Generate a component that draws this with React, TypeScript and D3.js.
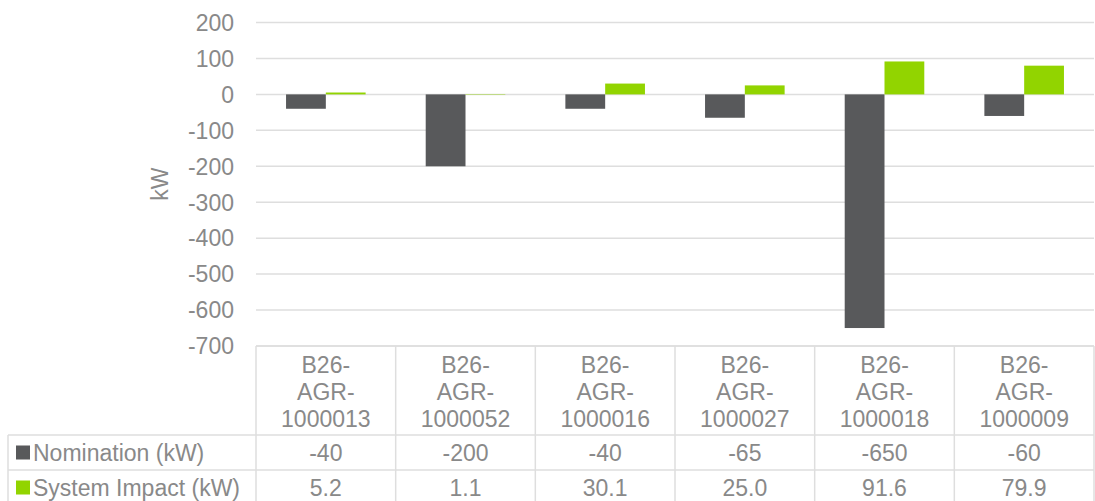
import React from "react";
import * as d3 from "d3";

const categories = [
  "B26-AGR-1000013",
  "B26-AGR-1000052",
  "B26-AGR-1000016",
  "B26-AGR-1000027",
  "B26-AGR-1000018",
  "B26-AGR-1000009",
];
const nomination = [-40, -200, -40, -65, -650, -60];
const systemImpact = [5.2, 1.1, 30.1, 25.0, 91.6, 79.9];
const nominationLabels = ["-40", "-200", "-40", "-65", "-650", "-60"];
const impactLabels = ["5.2", "1.1", "30.1", "25.0", "91.6", "79.9"];
const yTicks = [200, 100, 0, -100, -200, -300, -400, -500, -600, -700];
const seriesNames = ["Nomination (kW)", "System Impact (kW)"];
const seriesColors = ["#58595b", "#92d400"];

const W = 1095;
const H = 501;
const plotLeft = 256;
const plotRight = 1094;
const plotTop = 22.5;
const plotBottom = 346;
const tableLeft = 8;
const headerBottom = 435;
const row1Bottom = 470;
const row2Bottom = 505;
const textColor = "#898989";
const gridColor = "#dedede";
const font = "'Liberation Sans', Arial, sans-serif";
const fs = 23;

export default function App() {
  const y = d3.scaleLinear().domain([-700, 200]).range([plotBottom, plotTop]);
  const x = d3.scaleBand<string>().domain(categories).range([plotLeft, plotRight]).padding(0);
  const xs = d3
    .scaleBand<string>()
    .domain(seriesNames)
    .range([0, x.bandwidth()])
    .paddingInner(0)
    .paddingOuter(0.755);

  const series = [nomination, systemImpact];
  const rowLabels = [nominationLabels, impactLabels];

  const boundaries = categories.map((c) => x(c)!).concat([plotRight]);

  return (
    <svg
      width={W}
      height={H}
      style={{ position: "fixed", left: 0, top: 0, display: "block" }}
      fontFamily={font}
    >
      <rect width={W} height={H} fill="#fff" />
      {/* gridlines */}
      {yTicks.map((t) => (
        <line
          key={t}
          x1={plotLeft}
          x2={plotRight}
          y1={y(t)}
          y2={y(t)}
          stroke={gridColor}
          strokeWidth={1.5}
        />
      ))}
      {/* tick labels */}
      {yTicks.map((t) => (
        <text
          key={"l" + t}
          x={234}
          y={y(t)}
          dy="0.36em"
          textAnchor="end"
          fontSize={fs}
          fill={textColor}
        >
          {t}
        </text>
      ))}
      <text
        transform={`translate(168, ${y(-250)}) rotate(-90)`}
        textAnchor="middle"
        fontSize={fs}
        fill={textColor}
      >
        kW
      </text>
      {/* bars */}
      {series.map((vals, si) =>
        vals.map((v, i) => (
          <rect
            key={`b${si}-${i}`}
            x={x(categories[i])! + xs(seriesNames[si])!}
            width={xs.bandwidth()}
            y={Math.min(y(v), y(0))}
            height={Math.abs(y(v) - y(0))}
            fill={seriesColors[si]}
          />
        ))
      )}
      {/* table lines */}
      <line x1={plotLeft} x2={plotRight} y1={plotBottom} y2={plotBottom} stroke={gridColor} strokeWidth={1.5} />
      {[headerBottom, row1Bottom, row2Bottom].map((yy) => (
        <line key={"h" + yy} x1={tableLeft} x2={plotRight} y1={yy} y2={yy} stroke={gridColor} strokeWidth={1.5} />
      ))}
      {boundaries.map((bx, i) => (
        <line key={"v" + i} x1={bx} x2={bx} y1={plotBottom} y2={row2Bottom} stroke={gridColor} strokeWidth={1.5} />
      ))}
      <line x1={tableLeft} x2={tableLeft} y1={headerBottom} y2={row2Bottom} stroke={gridColor} strokeWidth={1.5} />
      {/* header labels */}
      {categories.map((c) => {
        const parts = c.split(/(?<=-)/);
        const cx = x(c)! + x.bandwidth() / 2;
        return (
          <text key={"c" + c} textAnchor="middle" fontSize={fs} fill={textColor}>
            {parts.map((p, k) => (
              <tspan key={k} x={cx} y={372.5 + k * 27.3}>
                {p}
              </tspan>
            ))}
          </text>
        );
      })}
      {/* rows */}
      {rowLabels.map((labels, ri) => {
        const top = ri === 0 ? headerBottom : row1Bottom;
        const bottom = ri === 0 ? row1Bottom : row2Bottom;
        const cy = (top + bottom) / 2;
        return (
          <g key={"r" + ri}>
            <rect x={16} y={cy - 7} width={14} height={14} fill={seriesColors[ri]} />
            <text x={33} y={cy} dy="0.36em" fontSize={fs} fill={textColor}>
              {seriesNames[ri]}
            </text>
            {labels.map((l, i) => (
              <text
                key={i}
                x={x(categories[i])! + x.bandwidth() / 2}
                y={cy}
                dy="0.36em"
                textAnchor="middle"
                fontSize={fs}
                fill={textColor}
              >
                {l}
              </text>
            ))}
          </g>
        );
      })}
    </svg>
  );
}
